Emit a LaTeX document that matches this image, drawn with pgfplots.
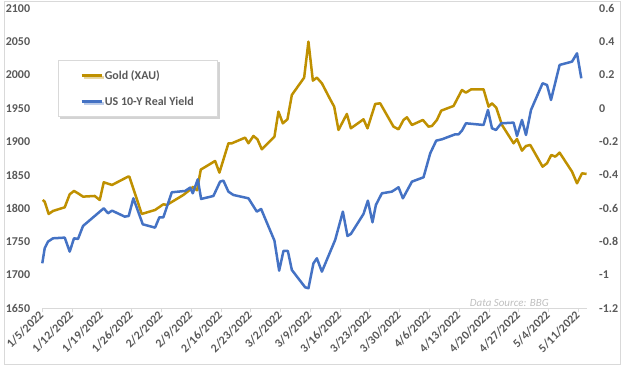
\documentclass[border=0pt]{standalone}
\usepackage{pgfplots}
\pgfplotsset{compat=1.18}
\usepackage{pgfplotstable}
\usepackage{fontspec}
\setmainfont{Carlito}
\usetikzlibrary{shadows}
\definecolor{gold}{HTML}{BF9000}
\definecolor{blu}{HTML}{4472C4}
\definecolor{tickgray}{HTML}{595959}
\definecolor{axgray}{HTML}{D9D9D9}
\definecolor{srcgray}{HTML}{BFBFBF}

\pgfplotstableread{
d v
0.09 1812.5
0.56 1810
1.50 1791.5
2.52 1796
5.27 1801.5
6.44 1821
7.45 1826
8.39 1822.5
9.57 1817.5
12.32 1818.5
13.50 1812.5
14.44 1839
16.39 1835
20.15 1847.5
20.45 1847.5
23.37 1791.5
26.50 1797.5
28.45 1806
29.25 1805
33.15 1820
35.13 1830
35.36 1832
36.37 1827
37.24 1858
40.61 1871
41.62 1853.5
43.74 1897.5
44.54 1897.5
47.66 1906
48.44 1897.5
49.61 1908.5
50.55 1903.5
51.59 1888.5
54.55 1907.5
55.49 1945
56.52 1927.5
57.61 1933.5
58.64 1970
61.53 1996
62.54 2050
63.58 1991.5
64.52 1996
65.70 1987.5
67.65 1963.5
68.59 1952.5
69.60 1917.5
71.57 1941.5
72.51 1920
75.48 1933.5
76.42 1920
78.23 1956.5
79.40 1957.5
82.53 1922.5
83.71 1918.5
84.88 1932.5
85.68 1936.5
86.86 1925
89.44 1932.5
90.76 1922.5
91.56 1923.5
92.73 1932.5
93.75 1946.5
96.64 1953.5
98.61 1977.5
99.55 1973.5
100.80 1978.5
103.69 1978.5
104.87 1952.5
105.67 1957.5
106.68 1951
108.02 1925
110.75 1897.5
111.55 1904
112.72 1886.5
113.66 1893.5
114.67 1895
117.56 1862.5
118.60 1867.5
119.61 1880
120.55 1877.5
121.56 1883.5
124.48 1855
125.65 1837.5
126.83 1852.5
127.9 1851.5
}\golddata

\pgfplotstableread{
d v
0.00 -0.93
0.56 -0.84
1.34 -0.80
2.52 -0.78
5.27 -0.776
6.44 -0.86
7.45 -0.78
8.39 -0.784
9.57 -0.706
14.44 -0.60
15.45 -0.63
16.39 -0.614
19.37 -0.65
20.31 -0.646
21.40 -0.54
23.61 -0.696
26.50 -0.716
27.51 -0.654
28.45 -0.654
30.43 -0.504
33.55 -0.496
34.73 -0.476
35.36 -0.51
36.54 -0.426
37.32 -0.544
40.21 -0.526
41.78 -0.44
42.56 -0.434
43.73 -0.50
44.91 -0.52
48.44 -0.54
50.41 -0.62
51.42 -0.604
54.55 -0.794
55.66 -0.974
56.67 -0.856
57.70 -0.856
58.64 -0.97
61.77 -1.074
62.54 -1.08
63.72 -0.93
64.52 -0.90
65.70 -0.98
68.82 -0.79
70.63 -0.62
71.71 -0.766
72.51 -0.754
75.48 -0.634
76.51 -0.554
77.59 -0.684
78.39 -0.58
79.80 -0.51
82.15 -0.50
83.71 -0.474
84.74 -0.54
86.86 -0.44
89.58 -0.414
91.16 -0.27
92.57 -0.194
93.91 -0.186
97.04 -0.156
97.82 -0.156
98.61 -0.134
99.55 -0.09
103.69 -0.10
104.73 -0.01
105.67 -0.12
106.61 -0.13
107.86 -0.09
110.75 -0.086
111.55 -0.166
112.72 -0.07
113.66 -0.16
114.84 -0.01
117.56 0.15
118.60 0.14
119.54 0.05
121.56 0.26
124.48 0.28
125.65 0.33
126.66 0.18
}\bluedata

\pgfplotsset{
  common/.style={
    at={(0bp,0bp)}, anchor=south west,
    width=544.7bp, height=300bp, scale only axis,
    xmin=0, xmax=128,
    tick align=outside, major tick length=4bp,
    ticklabel style={font=\fontsize{12}{14}\selectfont\bfseries, text=tickgray},
    /pgf/number format/assume math mode=true,
    clip=false,
  }
}

\begin{document}
\begin{tikzpicture}
\begin{axis}[common,
  ymin=1650, ymax=2100,
  axis x line*=bottom, axis y line*=left,
  x axis line style={axgray, line width=1bp},
  y axis line style={draw=none},
  xtick={0,7,...,126},
  xticklabels={1/5/2022,1/12/2022,1/19/2022,1/26/2022,2/2/2022,2/9/2022,2/16/2022,2/23/2022,3/2/2022,3/9/2022,3/16/2022,3/23/2022,3/30/2022,4/6/2022,4/13/2022,4/20/2022,4/27/2022,5/4/2022,5/11/2022},
  xtick style={axgray, line width=1bp},
  ytick={1650,1700,...,2100},
  ytick style={draw=none},
  yticklabel style={/pgf/number format/set thousands separator={}, anchor=east, inner sep=0pt, xshift=-8bp},
  xticklabel style={rotate=45, anchor=east, inner sep=1bp},
  legend style={at={(rel axis cs:0.0288,0.828)}, anchor=north west,
    draw=axgray, fill=white, line width=0.75bp,
    drop shadow={shadow xshift=2bp, shadow yshift=-2bp, opacity=0.35},
    font=\fontsize{12}{14}\selectfont\bfseries, text=tickgray,
    inner xsep=22bp, inner ysep=8bp, row sep=12bp,
    nodes={inner sep=2bp}},
  legend cell align=left,
  legend image code/.code={\draw[#1] (0bp,0bp) -- (20bp,0bp);},
]
\addplot[gold, line width=2.5bp, line join=round] table[x=d, y=v] {\golddata};
\addlegendentry{Gold (XAU)}
\addlegendimage{blu, line width=2.5bp}
\addlegendentry{US 10-Y Real Yield}
\end{axis}

\begin{axis}[common,
  ymin=-1.2, ymax=0.6,
  axis y line*=right, axis x line=none,
  y axis line style={draw=none},
  ytick={-1.2,-1,-0.8,-0.6,-0.4,-0.2,0,0.2,0.4,0.6},
  ytick style={draw=none},
  yticklabel style={/pgf/number format/fixed, /pgf/number format/precision=1, anchor=west, inner sep=0pt, xshift=8bp},
]
\addplot[blu, line width=2.5bp, line join=round] table[x=d, y=v] {\bluedata};
\node[anchor=east, font=\fontsize{11}{13}\selectfont\itshape, text=srcgray, inner sep=0pt] at (rel axis cs:0.930,0.018) {Data Source: BBG};
\end{axis}
\path[use as bounding box] (-42.3bp,-62.7bp) rectangle (581.7bp,308.3bp);
\draw[axgray, line width=1bp] (-37.8bp,-56.2bp) rectangle (577.7bp,306.8bp);
\end{tikzpicture}
\end{document}
